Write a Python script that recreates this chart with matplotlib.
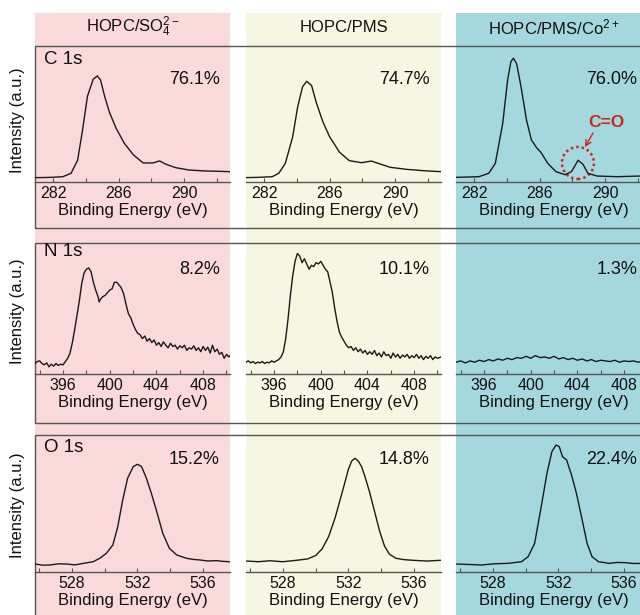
import matplotlib
matplotlib.use('Agg')
import matplotlib.pyplot as plt
from matplotlib.patches import Rectangle, Ellipse
from matplotlib.ticker import MultipleLocator

plt.rcParams['font.family'] = ['Liberation Sans', 'DejaVu Sans']
plt.rcParams['mathtext.fontset'] = 'custom'
plt.rcParams['mathtext.rm'] = 'Liberation Sans'
plt.rcParams['mathtext.default'] = 'regular'

# ---- data ----
headers = ['HOPC/SO$_4^{2-}$', 'HOPC/PMS', 'HOPC/PMS/Co$^{2+}$']
col_colors = ['#f9d9d9', '#f5f7e3', '#a4d8de']
elements = ['C 1s', 'N 1s', 'O 1s']
percents = [['76.1%', '74.7%', '76.0%'],
            ['8.2%', '10.1%', '1.3%'],
            ['15.2%', '14.8%', '22.4%']]
xlims = [(280.9, 292.8), (393.6, 410.3), (525.75, 537.65)]
xticks = [[282, 286, 290], [396, 400, 404, 408], [528, 532, 536]]

# C 1s
c_so4_e = [280.9, 281.5, 282.0, 282.6, 283.1, 283.5, 283.8, 284.1, 284.45, 284.7, 284.9, 285.15,
           285.45, 285.85, 286.35, 286.9, 287.5, 288.1, 288.5, 288.9, 289.5, 290.3, 291.3, 292.0, 292.8]
c_so4_i = [0.032, 0.033, 0.035, 0.039, 0.064, 0.16, 0.38, 0.63, 0.755, 0.78, 0.75, 0.63,
           0.51, 0.395, 0.285, 0.20, 0.14, 0.14, 0.155, 0.13, 0.105, 0.088, 0.081, 0.079, 0.076]
c_pms_e = [280.8, 281.6, 282.5, 282.9, 283.3, 283.75, 284.05, 284.35, 284.6, 284.9, 285.2, 285.6,
           286.0, 286.6, 287.2, 287.95, 288.55, 289.1, 289.7, 290.7, 291.75, 292.8]
c_pms_i = [0.032, 0.034, 0.039, 0.064, 0.137, 0.333, 0.55, 0.70, 0.74, 0.71, 0.58, 0.44,
           0.333, 0.22, 0.157, 0.142, 0.154, 0.132, 0.108, 0.093, 0.083, 0.076]
c_co_e = [280.8, 282.3, 282.9, 283.3, 283.75, 284.05, 284.25, 284.4, 284.6, 284.87, 285.2, 285.5,
          285.8, 286.1, 286.5, 287.0, 287.55, 287.95, 288.35, 288.65, 288.95, 289.5, 290.7, 292.2, 293.0]
c_co_i = [0.034, 0.039, 0.064, 0.137, 0.43, 0.75, 0.885, 0.91, 0.87, 0.70, 0.456, 0.31,
          0.255, 0.215, 0.137, 0.076, 0.054, 0.076, 0.16, 0.13, 0.064, 0.044, 0.039, 0.044, 0.042]

# N 1s
n_so4_e = [393.6, 393.8, 394.0, 394.2, 394.4, 394.6, 394.8, 395.0, 395.2, 395.4, 395.6, 395.8, 396.0,
           396.2, 396.4, 396.6, 396.8, 397.0, 397.2, 397.4, 397.6, 397.8, 398.0, 398.2, 398.4, 398.6,
           398.8, 399.0, 399.1, 399.2, 399.4, 399.6, 399.8, 400.0, 400.2, 400.4, 400.6, 400.8, 401.0,
           401.2, 401.4, 401.6, 401.8, 402.0, 402.2, 402.4, 402.6, 402.8, 403.0, 403.2, 403.4, 403.6,
           403.8, 404.0, 404.2, 404.4, 404.6, 404.8, 405.0, 405.2, 405.4, 405.6, 405.8, 406.0, 406.2,
           406.4, 406.6, 406.8, 407.0, 407.2, 407.4, 407.6, 407.8, 408.0, 408.2, 408.4, 408.6, 408.8,
           409.0, 409.2, 409.4, 409.6, 409.8, 410.0, 410.2, 410.3]
n_so4_i = [0.08, 0.095, 0.10, 0.08, 0.07, 0.085, 0.055, 0.075, 0.06, 0.08, 0.065, 0.075, 0.07,
           0.095, 0.12, 0.16, 0.24, 0.34, 0.45, 0.56, 0.69, 0.77, 0.80, 0.81, 0.78, 0.70,
           0.64, 0.59, 0.55, 0.57, 0.59, 0.60, 0.62, 0.64, 0.65, 0.70, 0.70, 0.68, 0.655,
           0.61, 0.53, 0.46, 0.43, 0.38, 0.34, 0.31, 0.30, 0.27, 0.29, 0.25, 0.27, 0.24,
           0.26, 0.22, 0.24, 0.21, 0.245, 0.22, 0.20, 0.235, 0.21, 0.22, 0.19, 0.215, 0.20,
           0.22, 0.18, 0.20, 0.19, 0.215, 0.18, 0.20, 0.17, 0.21, 0.18, 0.205, 0.16, 0.22,
           0.17, 0.19, 0.15, 0.165, 0.12, 0.15, 0.13, 0.14]
n_pms_e = [393.6, 393.8, 394.0, 394.2, 394.4, 394.6, 394.8, 395.0, 395.2, 395.4, 395.6, 395.8, 396.0,
           396.2, 396.4, 396.6, 396.8, 397.0, 397.2, 397.4, 397.6, 397.8, 398.0, 398.2, 398.4, 398.6,
           398.8, 399.0, 399.2, 399.4, 399.6, 399.8, 400.0, 400.2, 400.4, 400.6, 400.8, 401.0, 401.2,
           401.4, 401.6, 401.8, 402.0, 402.2, 402.4, 402.6, 402.8, 403.0, 403.2, 403.4, 403.6, 403.8,
           404.0, 404.2, 404.4, 404.6, 404.8, 405.0, 405.2, 405.4, 405.6, 405.8, 406.0, 406.2, 406.4,
           406.6, 406.8, 407.0, 407.2, 407.4, 407.6, 407.8, 408.0, 408.2, 408.4, 408.6, 408.8, 409.0,
           409.2, 409.4, 409.6, 409.8, 410.0, 410.3]
n_pms_i = [0.09, 0.10, 0.085, 0.095, 0.08, 0.09, 0.085, 0.095, 0.08, 0.09, 0.085, 0.10, 0.09,
           0.10, 0.11, 0.13, 0.17, 0.27, 0.42, 0.60, 0.75, 0.86, 0.92, 0.90, 0.85, 0.88,
           0.84, 0.80, 0.83, 0.82, 0.85, 0.84, 0.86, 0.83, 0.80, 0.78, 0.70, 0.62, 0.50,
           0.40, 0.32, 0.28, 0.25, 0.22, 0.20, 0.21, 0.18, 0.20, 0.17, 0.19, 0.16, 0.18,
           0.15, 0.17, 0.15, 0.18, 0.14, 0.16, 0.13, 0.17, 0.14, 0.15, 0.12, 0.16, 0.13,
           0.15, 0.12, 0.145, 0.13, 0.15, 0.12, 0.14, 0.125, 0.15, 0.12, 0.14, 0.11, 0.135,
           0.12, 0.14, 0.11, 0.13, 0.12, 0.13]
n_co_e = [393.6, 394.0, 394.4, 394.8, 395.2, 395.6, 396.0, 396.4, 396.8, 397.2, 397.6, 398.0, 398.4,
          398.8, 399.2, 399.6, 400.0, 400.4, 400.8, 401.2, 401.6, 402.0, 402.4, 402.8, 403.2, 403.6,
          404.0, 404.4, 404.8, 405.2, 405.6, 406.0, 406.4, 406.8, 407.2, 407.6, 408.0, 408.4, 408.8,
          409.2, 409.6, 410.0, 410.3]
n_co_i = [0.09, 0.10, 0.085, 0.10, 0.09, 0.105, 0.095, 0.11, 0.10, 0.115, 0.105, 0.12, 0.11,
          0.125, 0.12, 0.135, 0.12, 0.14, 0.125, 0.13, 0.12, 0.135, 0.115, 0.125, 0.11, 0.12,
          0.105, 0.115, 0.10, 0.11, 0.095, 0.105, 0.10, 0.095, 0.105, 0.09, 0.10, 0.095, 0.10,
          0.09, 0.10, 0.095, 0.10]

# O 1s
o_so4_e = [525.8, 526.2, 526.65, 527.2, 527.7, 528.2, 528.7, 529.3, 529.7, 530.1, 530.5, 530.8, 531.1,
           531.4, 531.75, 532.0, 532.25, 532.55, 532.85, 533.15, 533.55, 533.95, 534.4, 535.0,
           535.4, 535.8, 536.3, 536.8, 537.2, 537.6]
o_so4_i = [0.058, 0.05, 0.051, 0.06, 0.058, 0.052, 0.063, 0.075, 0.10, 0.136, 0.197, 0.33, 0.525,
           0.684, 0.77, 0.786, 0.77, 0.684, 0.574, 0.453, 0.282, 0.173, 0.124, 0.10,
           0.092, 0.088, 0.08, 0.083, 0.078, 0.075]
o_pms_e = [525.8, 526.5, 527.2, 528.0, 528.8, 529.5, 530.0, 530.4, 530.8, 531.2, 531.5, 531.8, 532.0,
           532.2, 532.4, 532.6, 532.8, 533.0, 533.3, 533.6, 533.9, 534.2, 534.5, 534.9, 535.4, 536.0,
           536.8, 537.6]
o_pms_i = [0.08, 0.075, 0.082, 0.075, 0.085, 0.095, 0.12, 0.17, 0.26, 0.40, 0.53, 0.66, 0.75,
           0.81, 0.83, 0.81, 0.77, 0.70, 0.58, 0.44, 0.30, 0.19, 0.13, 0.10, 0.09, 0.085,
           0.08, 0.085]
o_co_e = [525.8, 526.5, 527.3, 528.1, 528.9, 529.75, 530.15, 530.55, 530.95, 531.3, 531.6, 531.85,
          532.05, 532.25, 532.5, 532.8, 533.1, 533.45, 533.75, 534.05, 534.45, 535.1, 535.6, 536.1,
          536.6, 537.1, 537.7]
o_co_i = [0.058, 0.055, 0.051, 0.06, 0.063, 0.075, 0.112, 0.209, 0.477, 0.72, 0.878, 0.927,
          0.915, 0.842, 0.818, 0.708, 0.574, 0.38, 0.209, 0.112, 0.075, 0.063, 0.07, 0.068,
          0.062, 0.063, 0.06]

spectra = [[(c_so4_e, c_so4_i), (c_pms_e, c_pms_i), (c_co_e, c_co_i)],
           [(n_so4_e, n_so4_i), (n_pms_e, n_pms_i), (n_co_e, n_co_i)],
           [(o_so4_e, o_so4_i), (o_pms_e, o_pms_i), (o_co_e, o_co_i)]]

# C=O marker: circle centre / label position (eV, relative intensity)
co_circle = (288.34, 0.14)
co_label = (290.05, 0.44)
co_arrow_tail = (289.26, 0.36)
co_arrow_head = (288.77, 0.257)

# ---- layout (pixels of a 640x615 figure) ----
W, H = 640, 615
fig = plt.figure(figsize=(6.4, 6.15), dpi=100)


def fx(px):
    return px / W


def fy(py):
    return 1 - py / H


col_left = [35, 246, 456]
col_w = 195
row_top = [46, 243, 435]
row_axis = [182, 374, 572]
row_frame_bottom = [228, 423, 640]
ylab_center = [120, 311, 505]
lab_y = [60, 252, 448]
pct_y = [80, 270, 459]
pct_right = [220, 430, 637]

# column backgrounds
for j in range(3):
    fig.patches.append(Rectangle((fx(col_left[j]), fy(H + 20)), col_w / W, (H + 20 - 13) / H,
                                 transform=fig.transFigure, facecolor=col_colors[j],
                                 edgecolor='none', zorder=-3))
    fig.text(fx(col_left[j] + col_w / 2), fy(27), headers[j], ha='center', va='center',
             fontsize=12, color='#111')

# row frames
for i in range(3):
    fig.patches.append(Rectangle((fx(35), fy(row_frame_bottom[i])), 700 / W,
                                 (row_frame_bottom[i] - row_top[i]) / H,
                                 transform=fig.transFigure, facecolor='none',
                                 edgecolor='#555', lw=1.0, zorder=-2))

for i in range(3):
    for j in range(3):
        ax = fig.add_axes([fx(col_left[j]), fy(row_axis[i]), col_w / W,
                           (row_axis[i] - row_top[i]) / H])
        ax.patch.set_alpha(0)
        e, inten = spectra[i][j]
        ax.plot(e, inten, color='#1a1a1a', lw=1.0)
        ax.set_xlim(xlims[i])
        ax.set_ylim(0, 1)
        for s in ['top', 'left', 'right']:
            ax.spines[s].set_visible(False)
        ax.spines['bottom'].set_color('#555')
        ax.spines['bottom'].set_linewidth(1.0)
        ax.set_yticks([])
        ax.set_xticks(xticks[i])
        ax.xaxis.set_minor_locator(MultipleLocator(2))
        ax.tick_params(axis='x', which='both', direction='in', length=3, width=0.8,
                       colors='#555', labelcolor='#111', labelsize=11.5, pad=3)
        ax.set_xlabel('Binding Energy (eV)', fontsize=12, labelpad=1, color='#111')
        fig.text(fx(pct_right[j]), fy(pct_y[i]), percents[i][j], ha='right', va='center',
                 fontsize=13, color='#111')
        if i == 0 and j == 2:
            circ = Ellipse(co_circle, 32 / 16.39, 32 / 136, facecolor='none',
                           edgecolor='#c8281e', lw=1.8, ls=(0, (1, 1.2)))
            ax.add_patch(circ)
            ax.text(co_label[0], co_label[1], 'C=O', ha='center', va='center',
                    fontsize=12.5, fontweight='bold', color='#c8281e')
            ax.annotate('', xy=co_arrow_head, xytext=co_arrow_tail,
                        arrowprops=dict(arrowstyle='->', color='#c8281e', lw=1.0,
                                        shrinkA=0, shrinkB=0))
    fig.text(fx(44), fy(lab_y[i]), elements[i], ha='left', va='center', fontsize=13.5, color='#111')
    fig.text(fx(18), fy(ylab_center[i]), 'Intensity (a.u.)', rotation=90, ha='center',
             va='center', fontsize=12, color='#111')

fig.savefig('out.png', dpi=100)
